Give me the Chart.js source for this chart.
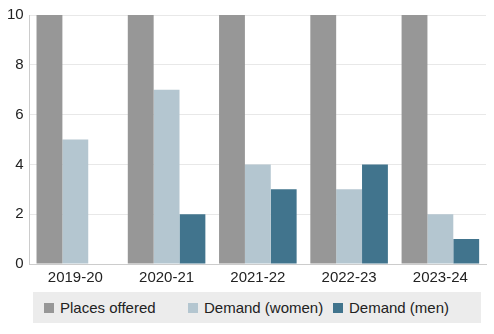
<!DOCTYPE html>
<html>
<head>
<meta charset="utf-8">
<script src="https://cdn.jsdelivr.net/npm/chart.js@4"></script>
<style>
  body { margin: 0; background: #fff; font-family: "Liberation Sans", Arial, sans-serif; }
  #wrap { position: relative; width: 494px; height: 334px; }
  #chartBox { position: absolute; left: 0; top: 0; width: 494px; height: 292px; }
  #legend {
    position: absolute; left: 33px; top: 292px; width: 448px; height: 31px;
    background: #ececec; display: grid; grid-template-columns: 144px 145px 159px;
    align-items: center; padding-left: 11px; box-sizing: border-box;
    font-size: 15px; color: #222;
  }
  .item { display: flex; align-items: center; white-space: nowrap; }
  .sw { width: 10px; height: 10px; margin-right: 6px; }
</style>
</head>
<body>
<div id="wrap">
  <div id="chartBox"><canvas id="c"></canvas></div>
  <div id="legend"></div>
</div>
<script>
const years = ["2019-20", "2020-21", "2021-22", "2022-23", "2023-24"];
const placesOffered = [10, 10, 10, 10, 10];
const demandWomen = [5, 7, 4, 3, 2];
const demandMen = [0, 2, 3, 4, 1];
const yTicks = [0, 2, 4, 6, 8, 10];

const colors = ["#979797", "#b4c6d0", "#41748d"];

const chart = new Chart(document.getElementById("c"), {
  type: "bar",
  data: {
    labels: years,
    datasets: [
      { label: "Places offered", data: placesOffered, backgroundColor: colors[0] },
      { label: "Demand (women)", data: demandWomen, backgroundColor: colors[1] },
      { label: "Demand (men)", data: demandMen, backgroundColor: colors[2] }
    ]
  },
  options: {
    responsive: true,
    maintainAspectRatio: false,
    animation: false,
    layout: { padding: { left: 1, right: 8, top: 13, bottom: 0 } },
    datasets: { bar: { categoryPercentage: 0.85, barPercentage: 1.0 } },
    plugins: { legend: { display: false }, tooltip: { enabled: false } },
    scales: {
      x: {
        grid: { display: false, drawTicks: false },
        border: { color: "#cccccc" },
        ticks: { color: "#222", font: { family: "Liberation Sans", size: 15 }, padding: 5 }
      },
      y: {
        min: 0, max: 10,
        afterBuildTicks: (axis) => { axis.ticks = yTicks.map(v => ({ value: v })); },
        grid: { color: "#e8e8e8", drawTicks: false },
        border: { color: "#cccccc" },
        ticks: { color: "#222", font: { family: "Liberation Sans", size: 15 }, padding: 6 }
      }
    }
  }
});

// legend built from the chart's datasets
const legend = document.getElementById("legend");
chart.data.datasets.forEach((ds) => {
  const item = document.createElement("div");
  item.className = "item";
  item.innerHTML = `<span class="sw" style="background:${ds.backgroundColor}"></span>${ds.label}`;
  legend.appendChild(item);
});
</script>
</body>
</html>
